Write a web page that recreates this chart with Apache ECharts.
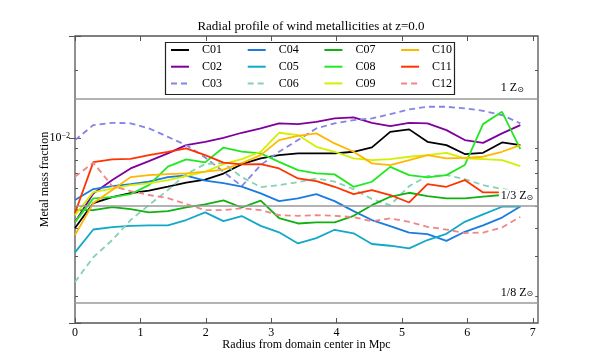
<!DOCTYPE html>
<html><head><meta charset="utf-8">
<script src="https://cdn.jsdelivr.net/npm/echarts@6/dist/echarts.min.js"></script>
<style>html,body{margin:0;padding:0;background:#fff}#c{width:600px;height:360px}</style>
</head><body><div id="c"></div>
<script>
// ---- data ----
const radius = [0, 0.28, 0.57, 0.85, 1.13, 1.42, 1.70, 1.99, 2.27, 2.55, 2.84, 3.12, 3.41, 3.69, 3.97, 4.26, 4.54, 4.82, 5.11, 5.39, 5.68, 5.96, 6.24, 6.53, 6.81];
const names = ['C01','C02','C03','C04','C05','C06','C07','C08','C09','C10','C11','C12'];
const c01 = [0.00400,0.00516,0.00548,0.00571,0.00586,0.00610,0.00635,0.00655,0.00697,0.00767,0.00813,0.00841,0.00856,0.00856,0.00856,0.00870,0.00910,0.01066,0.01093,0.00963,0.00931,0.00850,0.00861,0.00957,0.00931];
const c02 = [0.00425,0.00569,0.00652,0.00734,0.00791,0.00856,0.00931,0.00963,0.01003,0.01056,0.01104,0.01162,0.01153,0.01181,0.01222,0.01235,0.01169,0.01130,0.01169,0.01162,0.01085,0.00980,0.00953,0.01049,0.01142];
const c03 = [0.00980,0.01142,0.01169,0.01162,0.01104,0.01013,0.00931,0.00821,0.00710,0.00613,0.00760,0.00870,0.00980,0.01104,0.01162,0.01201,0.01222,0.01277,0.01340,0.01376,0.01376,0.01353,0.01321,0.01264,0.01162];
const c04 = [0.00532,0.00595,0.00613,0.00626,0.00642,0.00672,0.00683,0.00649,0.00632,0.00610,0.00569,0.00526,0.00541,0.00565,0.00526,0.00475,0.00434,0.00408,0.00382,0.00376,0.00351,0.00385,0.00411,0.00445,0.00498];
const c05 = [0.00312,0.00394,0.00404,0.00409,0.00411,0.00411,0.00434,0.00469,0.00429,0.00452,0.00409,0.00383,0.00342,0.00361,0.00393,0.00379,0.00340,0.00334,0.00325,0.00354,0.00377,0.00426,0.00460,0.00497,0.00497];
const c06 = [0.00231,0.00297,0.00354,0.00434,0.00505,0.00589,0.00693,0.00767,0.00775,0.00672,0.00607,0.00619,0.00639,0.00662,0.00642,0.00595,0.00537,0.00505,0.00613,0.00679,0.00686,0.00659,0.00619,0.00595,0.00583];
const c07 = [0.00480,0.00480,0.00495,0.00485,0.00469,0.00475,0.00494,0.00509,0.00530,0.00493,0.00529,0.00443,0.00419,0.00424,0.00424,0.00453,0.00505,0.00550,0.00573,0.00554,0.00541,0.00541,0.00551,0.00560,0.00562];
const c08 = [0.00425,0.00541,0.00548,0.00565,0.00619,0.00748,0.00805,0.00781,0.00908,0.00872,0.00856,0.00785,0.00722,0.00698,0.00691,0.00609,0.00641,0.00746,0.00686,0.00670,0.00686,0.00760,0.01153,0.01307,0.00894];
const c09 = [0.00456,0.00577,0.00598,0.00619,0.00630,0.00652,0.00679,0.00710,0.00767,0.00807,0.00870,0.01056,0.01031,0.00915,0.00870,0.00813,0.00799,0.00807,0.00827,0.00841,0.00861,0.00813,0.00807,0.00799,0.00752];
const c10 = [0.00372,0.00516,0.00589,0.00672,0.00686,0.00693,0.00698,0.00710,0.00726,0.00775,0.00841,0.00980,0.01024,0.01049,0.00947,0.00870,0.00773,0.00760,0.00799,0.00841,0.00813,0.00818,0.00827,0.00870,0.00931];
const c11 = [0.00466,0.00783,0.00805,0.00810,0.00841,0.00870,0.00900,0.00841,0.00779,0.00765,0.00767,0.00734,0.00663,0.00645,0.00609,0.00565,0.00589,0.00560,0.00519,0.00626,0.00609,0.00652,0.00575,0.00575,0.00574];
const c12 = [0.00674,0.00779,0.00613,0.00583,0.00560,0.00543,0.00511,0.00480,0.00480,0.00489,0.00480,0.00456,0.00453,0.00456,0.00453,0.00447,0.00429,0.00441,0.00426,0.00405,0.00394,0.00380,0.00382,0.00402,0.00448];
const seriesValues = [c01,c02,c03,c04,c05,c06,c07,c08,c09,c10,c11,c12];
const Z_SUN = 0.015;
const refFractions = [1, 1/3, 1/8];
const refLabels = ['1 Z{s|⊙}', '1/3 Z{s|⊙}', '1/8 Z{s|⊙}'];
const xTicks = [0,1,2,3,4,5,6,7];
const yMinorTicks = [0.002,0.003,0.004,0.005,0.006,0.007,0.008,0.009,0.02];

// ---- styles ----
const colors = ['#000000','#80009e','#8484e4','#1a7be0','#12a8c6','#86d2b2','#12b012','#22e822','#d2f000','#ffb800','#ff3300','#f08686'];
const dashedSet = ['C03','C06','C12'];
const FONT = 'Liberation Serif, DejaVu Serif, serif';
const Y_MIN = 0.00152, Y_MAX = 0.0283, X_MAX = 7.08;
const legendOrder = ['C01','C04','C07','C10','C02','C05','C08','C11','C03','C06','C09','C12'];

const chart = echarts.init(document.getElementById('c'), null, {renderer:'canvas'});

const dataSeries = names.map((n, i) => ({
  name: n, type: 'line', xAxisIndex: 0, yAxisIndex: 0,
  data: radius.map((r, k) => [r, seriesValues[i][k]]),
  symbol: 'none', showSymbol: false,
  lineStyle: {color: colors[i], width: 1.8, type: dashedSet.includes(n) ? [6,4] : 'solid'},
  itemStyle: {color: colors[i]},
  z: 2
}));

const refLineSeries = {
  name: 'ref', type: 'line', xAxisIndex: 0, yAxisIndex: 0, data: [], z: 1,
  markLine: {
    silent: true, symbol: 'none', animation: false,
    lineStyle: {color: '#9a9a9a', width: 1.5, type: 'solid'},
    label: {show: false},
    data: refFractions.map(f => [{coord: [0, Z_SUN * f]}, {coord: [X_MAX, Z_SUN * f]}])
  }
};
const refLabelSeries = {
  name: 'reflabel', type: 'line', xAxisIndex: 0, yAxisIndex: 0, data: [], z: 5,
  markLine: {
    silent: true, symbol: 'none', animation: false,
    lineStyle: {color: 'rgba(0,0,0,0)', width: 0},
    data: refFractions.map((f, i) => [
      {coord: [6.42, Z_SUN * f], label: {show: true, position: 'insideStartTop', formatter: refLabels[i], distance: 4,
        color: '#000', fontFamily: FONT, fontSize: 12, backgroundColor: '#fff', padding: [1, 2, 0, 2],
        rich: {s: {fontSize: 8, fontFamily: 'DejaVu Sans', verticalAlign: 'bottom', lineHeight: 6, color: '#000'}}}},
      {coord: [X_MAX, Z_SUN * f]}
    ])
  }
};

const axisCommonX = {type: 'value', min: 0, max: X_MAX, splitLine: {show: false}, axisLine: {show: false}};
const lyMin = Math.log10(Y_MIN), lyMax = Math.log10(Y_MAX);
const nameStyle = {fontFamily: FONT, fontSize: 12, color: '#000'};

chart.setOption({
  animation: false,
  backgroundColor: '#fff',
  title: {text: 'Radial profile of wind metallicities at z=0.0', left: 306, textAlign: 'center', top: 15,
    textStyle: {fontFamily: FONT, fontSize: 13, fontWeight: 'normal', color: '#000'}},
  grid: {left: 75, right: 62, top: 36, bottom: 37, show: true, borderColor: '#555', borderWidth: 1.3, backgroundColor: 'rgba(0,0,0,0)'},
  legend: {
    data: legendOrder, orient: 'horizontal', left: 170, top: 43, width: 310,
    itemWidth: 18, itemHeight: 2, itemGap: 2.7, padding: 0,
    itemStyle: {color: 'rgba(0,0,0,0)', opacity: 0, borderWidth: 0},
    textStyle: {fontFamily: FONT, fontSize: 12, color: '#000', width: 42, padding: [0,0,0,8], lineHeight: 14}
  },
  graphic: [{type: 'rect', left: 163, top: 40, shape: {width: 289, height: 52}, style: {fill: 'none', stroke: '#222', lineWidth: 1.2}, z: 10, silent: true}],
  xAxis: [
    Object.assign({}, axisCommonX, {position: 'bottom',
      axisTick: {inside: true, length: 5, lineStyle: {color: '#555'}, customValues: xTicks},
      axisLabel: {customValues: xTicks, fontFamily: FONT, fontSize: 12, color: '#000', margin: 4}}),
    Object.assign({}, axisCommonX, {position: 'top',
      axisTick: {inside: true, length: 5, lineStyle: {color: '#555'}, customValues: xTicks},
      axisLabel: {show: false}}),
    Object.assign({}, axisCommonX, {position: 'bottom', axisTick: {show: false}, axisLabel: {show: false},
      name: 'Radius from domain center in Mpc', nameLocation: 'middle', nameGap: 16, nameMoveOverlap: false,
      nameTextStyle: nameStyle})
  ],
  yAxis: [
    {type: 'log', logBase: 10, min: Y_MIN, max: Y_MAX, position: 'left', splitLine: {show: false}, axisLine: {show: false},
      axisTick: {inside: true, length: 6, lineStyle: {color: '#555'}},
      axisLabel: {fontFamily: FONT, fontSize: 12, color: '#000', margin: 5,
        formatter: v => Math.abs(Math.log10(v) + 2) < 1e-6 ? '10{sup|−2}' : '',
        rich: {sup: {fontSize: 8, fontFamily: FONT, verticalAlign: 'top', lineHeight: 6, color: '#000'}}}},
    {type: 'log', logBase: 10, min: Y_MIN, max: Y_MAX, position: 'right', splitLine: {show: false}, axisLine: {show: false},
      axisTick: {inside: true, length: 6, lineStyle: {color: '#555'}}, axisLabel: {show: false}},
    {type: 'value', min: lyMin, max: lyMax, position: 'left', splitLine: {show: false}, axisLine: {show: false},
      axisTick: {inside: true, length: 3, lineStyle: {color: '#555'}, customValues: yMinorTicks.map(Math.log10)},
      axisLabel: {show: false},
      name: 'Metal mass fraction', nameLocation: 'middle', nameGap: 24, nameRotate: 90, nameMoveOverlap: false,
      nameTextStyle: nameStyle},
    {type: 'value', min: lyMin, max: lyMax, position: 'right', splitLine: {show: false}, axisLine: {show: false},
      axisTick: {inside: true, length: 3, lineStyle: {color: '#555'}, customValues: yMinorTicks.map(Math.log10)},
      axisLabel: {show: false}}
  ],
  series: [refLineSeries].concat(dataSeries, [refLabelSeries])
});
</script></body></html>
